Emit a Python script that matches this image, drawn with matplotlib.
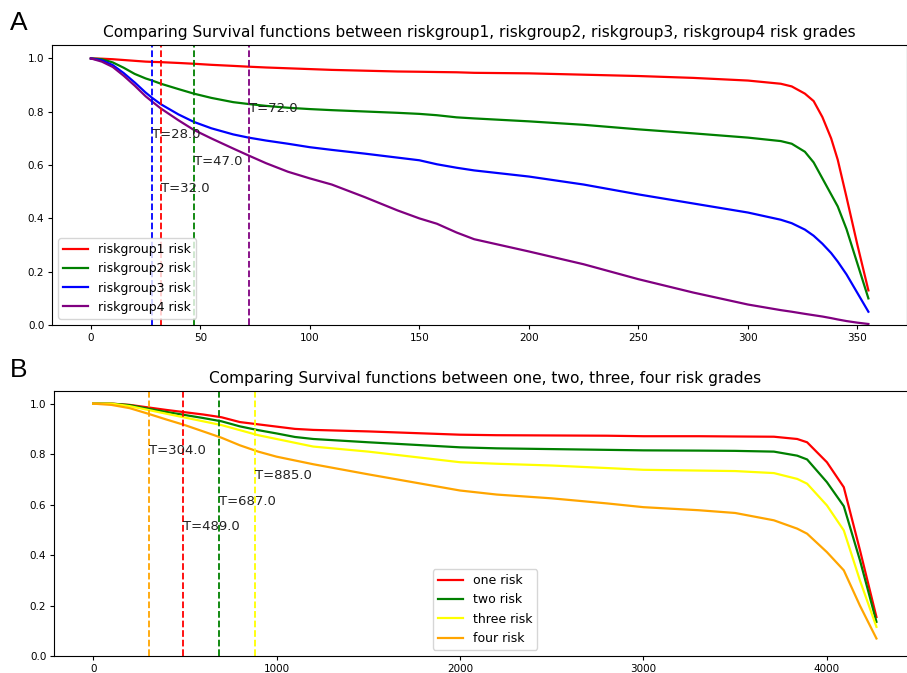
import matplotlib
matplotlib.use('Agg')
import matplotlib.pyplot as plt

# panel A: survival by riskgroup (time in days)
t_a = [0, 5, 10, 15, 20, 25, 28, 32, 40, 47, 55, 65, 72, 80, 90, 100, 110, 125, 140, 150,
       158, 167, 175, 200, 225, 250, 275, 300, 315, 320, 326, 330, 334, 338, 341, 345, 350, 355]
rg1 = [1.0, 0.999, 0.997, 0.994, 0.991, 0.988, 0.987, 0.986, 0.983, 0.980, 0.976, 0.972, 0.969, 0.966,
       0.963, 0.960, 0.957, 0.954, 0.951, 0.950, 0.949, 0.948, 0.946, 0.944, 0.939, 0.934, 0.927, 0.917,
       0.905, 0.895, 0.868, 0.840, 0.780, 0.700, 0.620, 0.480, 0.300, 0.13]
rg2 = [1.0, 0.997, 0.985, 0.965, 0.942, 0.925, 0.917, 0.905, 0.885, 0.868, 0.852, 0.836, 0.829, 0.822,
       0.815, 0.810, 0.806, 0.801, 0.796, 0.792, 0.787, 0.779, 0.775, 0.764, 0.751, 0.734, 0.719, 0.703,
       0.690, 0.680, 0.650, 0.610, 0.550, 0.490, 0.445, 0.360, 0.230, 0.10]
rg3 = [1.0, 0.993, 0.975, 0.945, 0.910, 0.872, 0.852, 0.828, 0.790, 0.762, 0.738, 0.715, 0.703, 0.692,
       0.680, 0.667, 0.657, 0.643, 0.628, 0.618, 0.603, 0.590, 0.580, 0.557, 0.527, 0.490, 0.456, 0.422,
       0.395, 0.382, 0.358, 0.335, 0.305, 0.270, 0.238, 0.190, 0.120, 0.05]
rg4 = [1.0, 0.988, 0.968, 0.935, 0.898, 0.858, 0.838, 0.812, 0.768, 0.732, 0.700, 0.662, 0.636, 0.607,
       0.575, 0.550, 0.527, 0.480, 0.430, 0.400, 0.380, 0.347, 0.322, 0.276, 0.228, 0.172, 0.122, 0.077,
       0.056, 0.050, 0.042, 0.037, 0.032, 0.026, 0.021, 0.015, 0.009, 0.004]
labels_a = ['riskgroup1 risk', 'riskgroup2 risk', 'riskgroup3 risk', 'riskgroup4 risk']
colors_a = ['red', 'green', 'blue', 'purple']
cut_a = [32, 47, 28, 72]
cut_a_y = [0.5, 0.6, 0.7, 0.8]

# panel B: survival by grade
t_b = [0, 100, 200, 300, 400, 500, 600, 700, 800, 900, 1000, 1100, 1200, 1500, 2000, 2200, 2500,
       2800, 3000, 3300, 3500, 3711, 3838, 3892, 4000, 4092, 4180, 4270]
one = [1.0, 1.0, 0.995, 0.985, 0.975, 0.966, 0.957, 0.946, 0.927, 0.918, 0.909, 0.900, 0.896, 0.890,
       0.877, 0.875, 0.874, 0.873, 0.871, 0.871, 0.870, 0.869, 0.860, 0.847, 0.768, 0.669, 0.420, 0.155]
two = [1.0, 1.0, 0.994, 0.980, 0.967, 0.955, 0.943, 0.930, 0.910, 0.895, 0.882, 0.868, 0.860, 0.847,
       0.827, 0.823, 0.820, 0.817, 0.815, 0.814, 0.813, 0.810, 0.794, 0.779, 0.689, 0.594, 0.380, 0.136]
three = [1.0, 1.0, 0.990, 0.975, 0.960, 0.945, 0.930, 0.915, 0.895, 0.875, 0.860, 0.845, 0.830, 0.810,
         0.768, 0.762, 0.755, 0.745, 0.738, 0.735, 0.733, 0.725, 0.702, 0.683, 0.597, 0.498, 0.300, 0.116]
four = [1.0, 0.995, 0.982, 0.960, 0.937, 0.915, 0.890, 0.865, 0.835, 0.810, 0.790, 0.775, 0.760, 0.720,
        0.656, 0.640, 0.625, 0.605, 0.590, 0.578, 0.567, 0.538, 0.505, 0.485, 0.412, 0.340, 0.200, 0.07]
labels_b = ['one risk', 'two risk', 'three risk', 'four risk']
colors_b = ['red', 'green', 'yellow', 'orange']
cut_b = [489, 687, 885, 304]
cut_b_y = [0.5, 0.6, 0.7, 0.8]


def draw_panel(ax, t, series, labels, colors, cuts, cut_y, title, legend_loc):
    for s, lab, c in zip(series, labels, colors):
        ax.plot(t, s, color=c, lw=1.6, label=lab)
    for c, tc, ty in zip(colors, cuts, cut_y):
        ax.axvline(tc, color=c, ls='--', lw=1.3)
        ax.text(tc, ty, 'T=%.1f' % tc, fontsize=9.5, color='#222222')
    ax.set_ylim(0, 1.05)
    ax.set_title(title, fontsize=11.1)
    ax.tick_params(labelsize=7.5, length=3, pad=2.5)
    ax.legend(loc=legend_loc, fontsize=9)


fig = plt.figure(figsize=(9.07, 6.73), dpi=100)
# axes run slightly past the right edge, as in the cropped original
ax1 = fig.add_axes([0.0573, 0.517, 0.943, 0.416])
ax2 = fig.add_axes([0.0595, 0.025, 0.950, 0.394])

draw_panel(ax1, t_a, [rg1, rg2, rg3, rg4], labels_a, colors_a, cut_a, cut_a_y,
           'Comparing Survival functions between riskgroup1, riskgroup2, riskgroup3, riskgroup4 risk grades',
           'lower left')
draw_panel(ax2, t_b, [one, two, three, four], labels_b, colors_b, cut_b, cut_b_y,
           'Comparing Survival functions between one, two, three, four risk grades',
           'lower center')

fig.text(0.011, 0.955, 'A', fontsize=19, family='Liberation Sans')
fig.text(0.011, 0.44, 'B', fontsize=19, family='Liberation Sans')

fig.savefig('out.png', dpi=100)
